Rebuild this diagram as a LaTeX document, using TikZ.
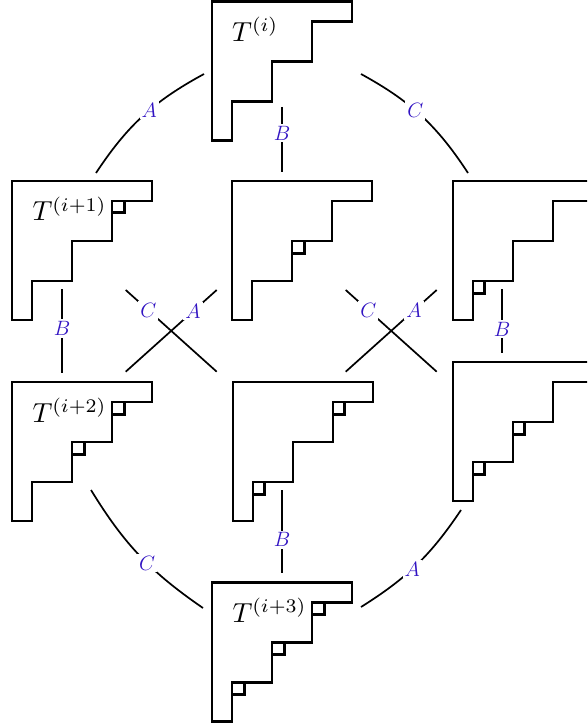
\documentclass[tikz,border=0pt]{standalone}
\usepackage{xcolor}
\usepackage{graphicx}
\usetikzlibrary{calc}
\definecolor{lblue}{RGB}{50,20,195}
\newcommand{\tlabel}[1]{\scalebox{2.75}{$T^{(#1)}$}}
\begin{document}
\begin{tikzpicture}[x=1pt,y=-1pt,
  tab/.style={line width=2.2pt, line join=miter},
  conn/.style={line width=1.7pt},
  lab/.style={text=lblue, fill=white, inner sep=2pt, font=\fontsize{20}{24}\selectfont},
  tname/.style={anchor=base west, inner sep=0pt},
  youngshape/.pic={\draw[tab] (0,0) -- (140,0) -- (140,20) -- (100,20) -- (100,60) -- (60,60) -- (60,100) -- (20,100) -- (20,139) -- (0,139) -- cycle;},
  addbox/.pic={\draw[line width=1.7pt] (0,0) rectangle (12,12); \draw[line width=3pt] (12,0) -- (12,12) -- (0,12);}
]
\useasboundingbox (0,0) rectangle (587,727);
\clip (0,0) rectangle (587,727);
% tableau origins (top-left corners)
\coordinate (Ti)  at (212,1.5);
\coordinate (Ti1) at (12.3,181);
\coordinate (Mt)  at (232.3,181);
\coordinate (Rt)  at (452.7,181);
\coordinate (Ti2) at (12.3,382);
\coordinate (Mb)  at (232.7,382);
\coordinate (Rb)  at (452.7,362);
\coordinate (Ti3) at (212.3,582.5);
% shapes
\foreach \t in {Ti,Ti1,Mt,Rt,Ti2,Mb,Rb,Ti3} {\pic at (\t) {youngshape};}
% added boxes
\pic at ($(Ti1)+(100,20)$) {addbox};
\pic at ($(Mt)+(60,60)$) {addbox};
\pic at ($(Rt)+(20,100)$) {addbox};
\pic at ($(Ti2)+(100,20)$) {addbox};
\pic at ($(Ti2)+(60,60)$) {addbox};
\pic at ($(Mb)+(100,20)$) {addbox};
\pic at ($(Mb)+(20,100)$) {addbox};
\pic at ($(Rb)+(60,60)$) {addbox};
\pic at ($(Rb)+(20,100)$) {addbox};
\pic at ($(Ti3)+(100,20)$) {addbox};
\pic at ($(Ti3)+(60,60)$) {addbox};
\pic at ($(Ti3)+(20,100)$) {addbox};
% names
\node[tname] (nTi)  at ($(Ti)+(20,40)$)  {\tlabel{i}};
\node[tname] (nTi1) at ($(Ti1)+(20,40)$) {\tlabel{i+1}};
\node[tname] (nTi2) at ($(Ti2)+(20,40)$) {\tlabel{i+2}};
\node[tname] (nTi3) at ($(Ti3)+(20,40)$) {\tlabel{i+3}};
% connector end points
\coordinate (TiA) at (204,74);   \coordinate (Ti1A) at (96,173);
\coordinate (TiC) at (361,74);   \coordinate (RtC) at (468,173);
\coordinate (Ti2C) at (91,490);  \coordinate (Ti3C) at (203,608);
\coordinate (RbA) at (461,510);  \coordinate (Ti3A) at (361,607);
\coordinate (TiB) at (282,107);  \coordinate (MtB) at (282,172);
\coordinate (Ti1B) at (62,289);  \coordinate (Ti2B) at (62,373);
\coordinate (RtB) at (502,289);  \coordinate (RbB) at (502,353);
\coordinate (MbB) at (282,490);  \coordinate (Ti3B) at (282,573);
\coordinate (Ti1X) at (125.7,290); \coordinate (MbX) at (216.7,371.7);
\coordinate (MtX) at (216.7,290);  \coordinate (Ti2X) at (125.7,371.7);
\coordinate (MtY) at (345.7,290);  \coordinate (RbY) at (436.7,371.7);
\coordinate (RtY) at (436.7,290);  \coordinate (MbY) at (345.7,371.7);
% arcs
\draw[conn] (TiA) to[bend right=14] node[lab,pos=0.44]{$A$} (Ti1A);
\draw[conn] (TiC) to[bend left=14] node[lab,pos=0.44]{$C$} (RtC);
\draw[conn] (Ti2C) to[bend right=12] node[lab,pos=0.57]{$C$} (Ti3C);
\draw[conn] (RbA) to[bend left=12] node[lab,pos=0.55]{$A$} (Ti3A);
% B lines
\draw[conn] (TiB) -- node[lab,pos=0.4]{$B$} (MtB);
\draw[conn] (Ti1B) -- node[lab,pos=0.47]{$B$} (Ti2B);
\draw[conn] (RtB) -- node[lab,pos=0.63]{$B$} (RbB);
\draw[conn] (MbB) -- node[lab,pos=0.6]{$B$} (Ti3B);
% crosses
\draw[conn] (Ti1X) -- node[lab,pos=0.25]{$C$} (MbX);
\draw[conn] (MtX) -- node[lab,pos=0.26]{$A$} (Ti2X);
\draw[conn] (MtY) -- node[lab,pos=0.25]{$C$} (RbY);
\draw[conn] (RtY) -- node[lab,pos=0.25]{$A$} (MbY);
\end{tikzpicture}
\end{document}
